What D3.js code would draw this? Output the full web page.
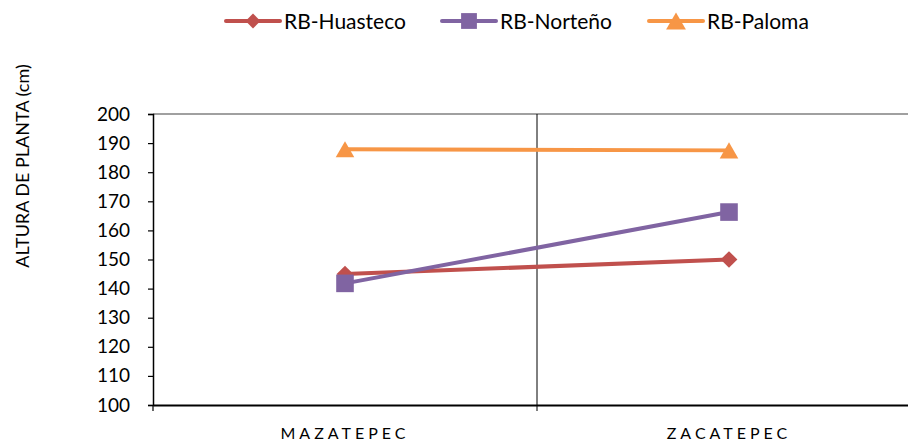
<!DOCTYPE html>
<html>
<head>
<meta charset="utf-8">
<script src="https://cdn.jsdelivr.net/npm/d3@7/dist/d3.min.js"></script>
<style>
  html, body { margin: 0; padding: 0; background: #fff; }
  svg { display: block; overflow: hidden; }
  text { font-family: Lato, "Open Sans", sans-serif; fill: #000; }
</style>
</head>
<body>
<div id="chart"></div>
<script>
// Plant height (cm) per locality for three maize hybrids
const categories = ["MAZATEPEC", "ZACATEPEC"];
const seriesNames = ["RB-Huasteco", "RB-Norteño", "RB-Paloma"];
const huasteco = [145, 150];
const norteno = [141.8, 166.3];
const paloma = [187.9, 187.5];
const yTicks = [100, 110, 120, 130, 140, 150, 160, 170, 180, 190, 200];

// rotated square for the diamond marker
const diamond = {
  draw(ctx, size) {
    const r = Math.sqrt(size / 2);
    ctx.moveTo(0, -r); ctx.lineTo(r, 0); ctx.lineTo(0, r); ctx.lineTo(-r, 0); ctx.closePath();
  }
};
// triangle centred on its bounding box
const triangle = {
  draw(ctx, size) {
    const s = Math.sqrt(size * 4 / Math.sqrt(3));
    const h = s * Math.sqrt(3) / 2;
    ctx.moveTo(0, -h / 2); ctx.lineTo(s / 2, h / 2); ctx.lineTo(-s / 2, h / 2); ctx.closePath();
  }
};

const series = [
  { name: seriesNames[0], values: huasteco, color: "#C0504D", marker: diamond, size: 140, legendSize: 110 },
  { name: seriesNames[1], values: norteno, color: "#8064A2", marker: d3.symbolSquare, size: 310, legendSize: 250 },
  { name: seriesNames[2], values: paloma, color: "#F79646", marker: triangle, size: 150, legendSize: 170 }
];

const W = 908, H = 441;
const plotLeft = 153, plotTop = 114, plotBottom = 405, plotRight = 921;

const svg = d3.select("#chart").append("svg")
  .attr("width", W).attr("height", H);

const x = d3.scaleBand().domain(categories).range([plotLeft, plotRight]);
const y = d3.scaleLinear().domain([100, 200]).range([plotBottom, plotTop]);

// plot-area top border
svg.append("line")
  .attr("x1", plotLeft).attr("x2", plotRight)
  .attr("y1", plotTop).attr("y2", plotTop)
  .attr("stroke", "#808080").attr("stroke-width", 1.5);

// category divider
svg.append("line")
  .attr("x1", x(categories[1])).attr("x2", x(categories[1]))
  .attr("y1", plotTop).attr("y2", plotBottom + 6)
  .attr("stroke", "#000").attr("stroke-width", 1);

// y axis
const yAxis = svg.append("g")
  .attr("transform", `translate(${plotLeft},0)`)
  .call(d3.axisLeft(y).tickValues(yTicks).tickSize(5).tickPadding(18).tickFormat(d3.format("d")));
yAxis.select(".domain").attr("stroke", "#000").attr("stroke-width", 1.5);
yAxis.selectAll(".tick line").attr("stroke", "#000").attr("stroke-width", 1.2);
yAxis.selectAll(".tick text").style("font-size", "19px").attr("font-family", "Lato, sans-serif");

// x axis
const xAxis = svg.append("g")
  .attr("transform", `translate(0,${plotBottom})`)
  .call(d3.axisBottom(x).tickSize(0).tickPadding(23));
xAxis.select(".domain").attr("stroke", "#000").attr("stroke-width", 2);
xAxis.selectAll(".tick text")
  .style("font-size", "16px")
  .style("letter-spacing", "4px")
  .attr("font-family", "Lato, sans-serif");
// tick mark at the left band boundary
svg.append("line")
  .attr("x1", plotLeft).attr("x2", plotLeft)
  .attr("y1", plotBottom).attr("y2", plotBottom + 6)
  .attr("stroke", "#000").attr("stroke-width", 1.2);

// y axis title
svg.append("text")
  .attr("transform", `translate(29,166) rotate(-90)`)
  .attr("text-anchor", "middle")
  .style("font-size", "18px")
  .text("ALTURA DE PLANTA (cm)");

const cx = c => x(c) + x.bandwidth() / 2;
const line = d3.line().x((d, i) => cx(categories[i])).y(d => y(d));

series.forEach(s => {
  svg.append("path")
    .attr("d", line(s.values))
    .attr("fill", "none")
    .attr("stroke", s.color)
    .attr("stroke-width", 4);
});
series.forEach(s => {
  svg.selectAll(null).data(s.values).enter().append("path")
    .attr("d", d3.symbol().type(s.marker).size(s.size))
    .attr("transform", (d, i) => `translate(${cx(categories[i])},${y(d)})`)
    .attr("fill", s.color);
});

// legend
const legendX = [226, 442, 649];
series.forEach((s, i) => {
  const g = svg.append("g").attr("transform", `translate(${legendX[i]},21)`);
  g.append("line").attr("x1", 0).attr("x2", 54)
    .attr("stroke", s.color).attr("stroke-width", 4).attr("stroke-linecap", "round");
  g.append("path")
    .attr("d", d3.symbol().type(s.marker).size(s.legendSize))
    .attr("transform", "translate(27,0)")
    .attr("fill", s.color);
  g.append("text").attr("x", 58).attr("y", 7.5)
    .style("font-size", "21px")
    .text(s.name);
});
</script>
</body>
</html>
